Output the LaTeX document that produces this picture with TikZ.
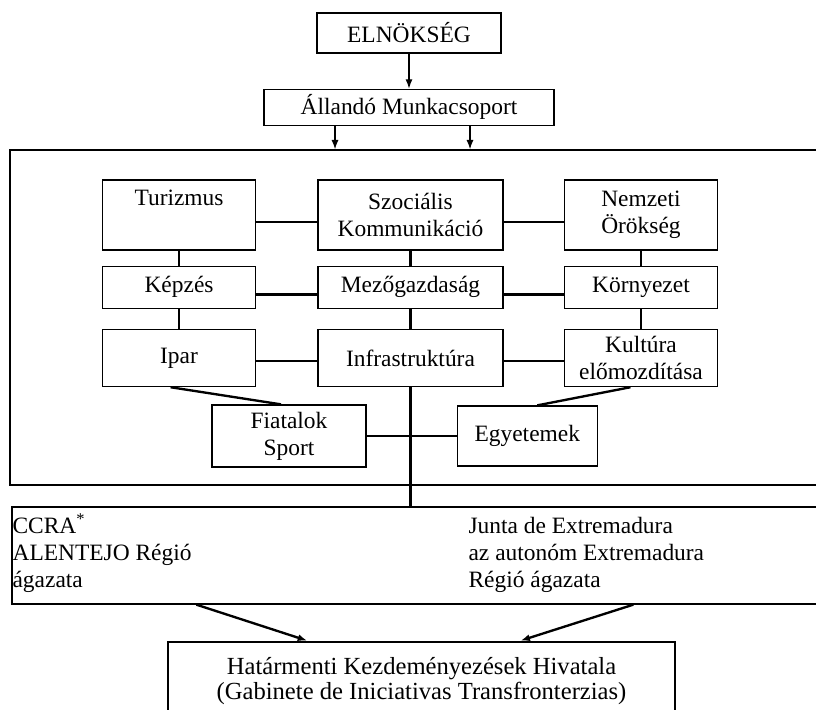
\documentclass[tikz,border=0pt]{standalone}
\usepackage{fontspec}
\setmainfont{Liberation Serif}
\usetikzlibrary{arrows.meta,positioning}

\begin{document}
\begin{tikzpicture}[node distance=0.6cm,>={Latex[length=8pt,width=6pt]},font=\fontsize{20}{23}\selectfont]
  \tikzstyle{unit}=[draw,line width=1.1pt,align=center,inner sep=2pt]
  \tikzstyle{side}=[unit,minimum width=4.6cm]
  \tikzstyle{mid}=[unit,minimum width=5.55cm]
  \tikzstyle{link}=[line width=2pt]
  \tikzstyle{txt}=[align=left,inner sep=0pt,anchor=north west]
  \useasboundingbox (0,0) rectangle (24.48,-21.27);
  % top of the chart
  \node[unit,minimum width=5.52cm,minimum height=1.2cm] (elnok) at (12.27,-0.99) {ELNÖKSÉG};
  \node[unit,minimum width=8.7cm,minimum height=1.08cm,below=1.05cm of elnok] (allando) {Állandó Munkacsoport};
  \node[unit,minimum width=24.9cm,minimum height=10.05cm] (frame) at (12.75,-9.525) {};
  % working groups
  \node[mid,minimum height=2.1cm] (szoc) at (12.315,-6.45) {Szociális\\Kommunikáció};
  \node[side,minimum height=2.1cm,left=1.83cm of szoc] (tur) {Turizmus\\\strut};
  \node[side,minimum height=2.1cm,right=1.8cm of szoc] (nem) {Nemzeti\\Örökség};
  \node[mid,minimum height=1.26cm,below=0.45cm of szoc] (mezo) {Mezőgazdaság};
  \node[side,minimum height=1.26cm,left=1.83cm of mezo] (kep) {Képzés};
  \node[side,minimum height=1.26cm,right=1.8cm of mezo] (korny) {Környezet};
  \node[mid,minimum height=1.71cm,below=0.6cm of mezo] (infra) {Infrastruktúra};
  \node[side,minimum height=1.71cm,left=1.83cm of infra] (ipar) {Ipar};
  \node[side,minimum height=1.71cm,right=1.8cm of infra] (kult) {Kultúra\\előmozdítása};
  \node[unit,minimum width=4.62cm,minimum height=1.86cm] (fiat) at (8.67,-13.08) {Fiatalok\\Sport};
  \node[unit,minimum width=4.2cm,minimum height=1.8cm,right=2.7cm of fiat] (egy) {Egyetemek};
  % regions
  \node[unit,minimum width=24.84cm,minimum height=2.91cm] (regio) at (12.78,-16.665) {};
  \node[txt] (ccra) at ([xshift=0.03cm,yshift=-0.14cm]regio.north west) {\rule{0pt}{19pt}CCRA\textsuperscript{*}\\ALENTEJO Régió\\ágazata};
  \node[txt] (junta) at ([xshift=13.71cm,yshift=-0.14cm]regio.north west) {\rule{0pt}{19pt}Junta de Extremadura\\az autonóm Extremadura\\Régió ágazata};
  \node[unit,minimum width=15.21cm,minimum height=2.34cm,font=\fontsize{21}{22}\selectfont] (hat) at (12.645,-20.43) {Határmenti Kezdeményezések Hivatala\\(Gabinete de Iniciativas Transfronterzias)};
  % arrows
  \draw[->,line width=1.1pt] (elnok) -- (allando);
  \foreach \s in {-2.22,1.83}
    \draw[->,line width=1.1pt] ([xshift=\s cm]allando.south) -- ([xshift=\s cm]allando.south |- frame.north);
  \foreach \a/\b in {tur/kep,kep/ipar,szoc/mezo,mezo/infra,nem/korny,korny/kult}
    \draw[link] (\a) -- (\b);
  \foreach \a/\b/\s in {tur/szoc/-0.21,szoc/nem/-0.21,kep/mezo/-0.22,mezo/korny/-0.22,ipar/infra/-0.09,infra/kult/-0.09}
    \draw[link] ([yshift=\s cm]\a.east) -- ([yshift=\s cm]\b.west);
  \draw[link] ([xshift=-0.255cm]ipar.south) -- ([xshift=-0.24cm]fiat.north);
  \draw[link] ([xshift=-0.315cm]kult.south) -- ([xshift=0.3cm]egy.north);
  \draw[link] (fiat) -- (egy);
  \draw[link] (infra.south) -- (infra.south |- regio.north);
  \draw[->,link,shorten >=2pt] ([xshift=5.55cm]regio.south west) -- ([xshift=4.26cm]hat.north west);
  \draw[->,link,shorten >=2pt] ([xshift=18.66cm]regio.south west) -- ([xshift=10.53cm]hat.north west);
\end{tikzpicture}
\end{document}
